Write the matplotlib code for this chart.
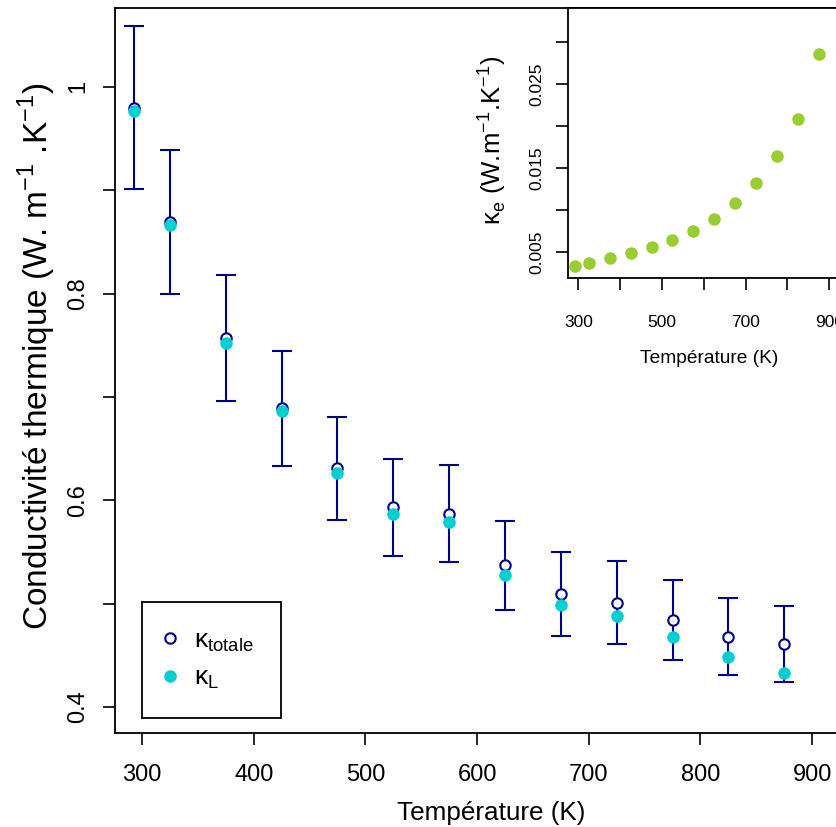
import numpy as np
import matplotlib
matplotlib.use('Agg')
import matplotlib.pyplot as plt

plt.rcParams['font.family'] = ['Liberation Sans', 'DejaVu Sans']
plt.rcParams['mathtext.fontset'] = 'custom'
plt.rcParams['mathtext.rm'] = 'Liberation Sans'

# données
temperature = [293, 325, 375, 425, 475, 525, 575, 625, 675, 725, 775, 825, 875]
kappa_tot = [0.980, 0.869, 0.757, 0.689, 0.631, 0.593, 0.587, 0.537, 0.509, 0.501, 0.484, 0.468, 0.461]
kappa_L = [0.977, 0.866, 0.752, 0.686, 0.626, 0.587, 0.579, 0.528, 0.499, 0.488, 0.468, 0.448, 0.433]
kappa_err = [0.0785, 0.0695, 0.0605, 0.0555, 0.050, 0.047, 0.047, 0.043, 0.0405, 0.040, 0.0385, 0.0375, 0.037]
kappa_e = [0.00340, 0.00373, 0.00432, 0.00488, 0.00563, 0.00650, 0.00757,
           0.00893, 0.01083, 0.01329, 0.01646, 0.02087, 0.02864]

main_yticks = [0.4, 0.5, 0.6, 0.7, 0.8, 0.9, 1.0]
main_ylabels = ['0.4', '', '0.6', '', '0.8', '', '1']
main_xticks = [300, 400, 500, 600, 700, 800, 900]
ins_yticks = [0.005, 0.010, 0.015, 0.020, 0.025, 0.030]
ins_ylabels = ['0.005', '', '0.015', '', '0.025', '']
ins_xticks = [300, 400, 500, 600, 700, 800, 900]
ins_xlabels = ['300', '', '500', '', '700', '', '900']

navy = '#00008B'
cyan = '#00CED1'
green = '#9ACD32'

fig = plt.figure(figsize=(8.37, 8.27), dpi=100)

# graphique principal
ax = fig.add_axes([0.1374, 0.1137, 0.8996, 0.8767])
ax.errorbar(temperature, kappa_tot, yerr=kappa_err, fmt='none', ecolor=navy,
            elinewidth=1.5, capsize=7, capthick=1.5, zorder=2)
ax.plot(temperature, kappa_tot, 'o', ms=7.5, mfc='white', mec=navy, mew=1.5,
        ls='none', zorder=3, label='κ$_{\\mathregular{totale}}$')
ax.plot(temperature, kappa_L, 'o', ms=8, mfc=cyan, mec=cyan, ls='none',
        zorder=4, label='κ$_{\\mathregular{L}}$')
ax.set_xlim(275.8, 950)
ax.set_ylim(0.3748, 1.0764)
ax.set_xticks(main_xticks)
ax.set_yticks(main_yticks)
ax.set_yticklabels(main_ylabels)
ax.tick_params(direction='out', length=8.5, width=1.2, labelsize=17, pad=10)
ax.tick_params(axis='x', pad=14)
ax.tick_params(axis='y', labelrotation=90)
for lbl in ax.get_yticklabels():
    lbl.set_va('center')
for sp in ax.spines.values():
    sp.set_linewidth(1.3)
ax.set_xlabel('Température (K)', fontsize=18.8, labelpad=10.5)
ax.set_ylabel('Conductivité thermique (W. m$^{\\mathregular{-1}}$ .K$^{\\mathregular{-1}}$)',
              fontsize=24, labelpad=7)
ax.yaxis.label.set_y(0.52)

leg = ax.legend(loc='lower left', bbox_to_anchor=(0.036, 0.021), fontsize=19,
                frameon=True, fancybox=False, edgecolor='black', framealpha=1,
                borderpad=1.0, labelspacing=0.45, handletextpad=0.83,
                borderaxespad=0, handlelength=0.15)
leg.get_frame().set_linewidth(1.3)

# encart
ins = fig.add_axes([0.679, 0.6635, 0.3366, 0.3272])
ins.plot(temperature, kappa_e, 'o', ms=8, color=green, ls='none')
ins.set_xlim(276, 950)
ins.set_ylim(0.0019, 0.0341)
ins.set_xticks(ins_xticks)
ins.set_xticklabels(ins_xlabels)
ins.set_yticks(ins_yticks)
ins.set_yticklabels(ins_ylabels)
ins.tick_params(direction='out', length=8.5, width=1.2, labelsize=12.5, pad=9)
ins.tick_params(axis='x', pad=18)
ins.tick_params(axis='y', labelrotation=90)
for lbl in ins.get_yticklabels():
    lbl.set_va('center')
for sp in ins.spines.values():
    sp.set_linewidth(1.3)
ins.set_xlabel('Température (K)', fontsize=13.8, labelpad=14)
ins.set_ylabel('κ$_{\\mathregular{e}}$ (W.m$^{\\mathregular{-1}}$.K$^{\\mathregular{-1}}$)',
               fontsize=18.5, labelpad=15)
ins.yaxis.label.set_y(0.511)

fig.savefig('out.png', dpi=100)
